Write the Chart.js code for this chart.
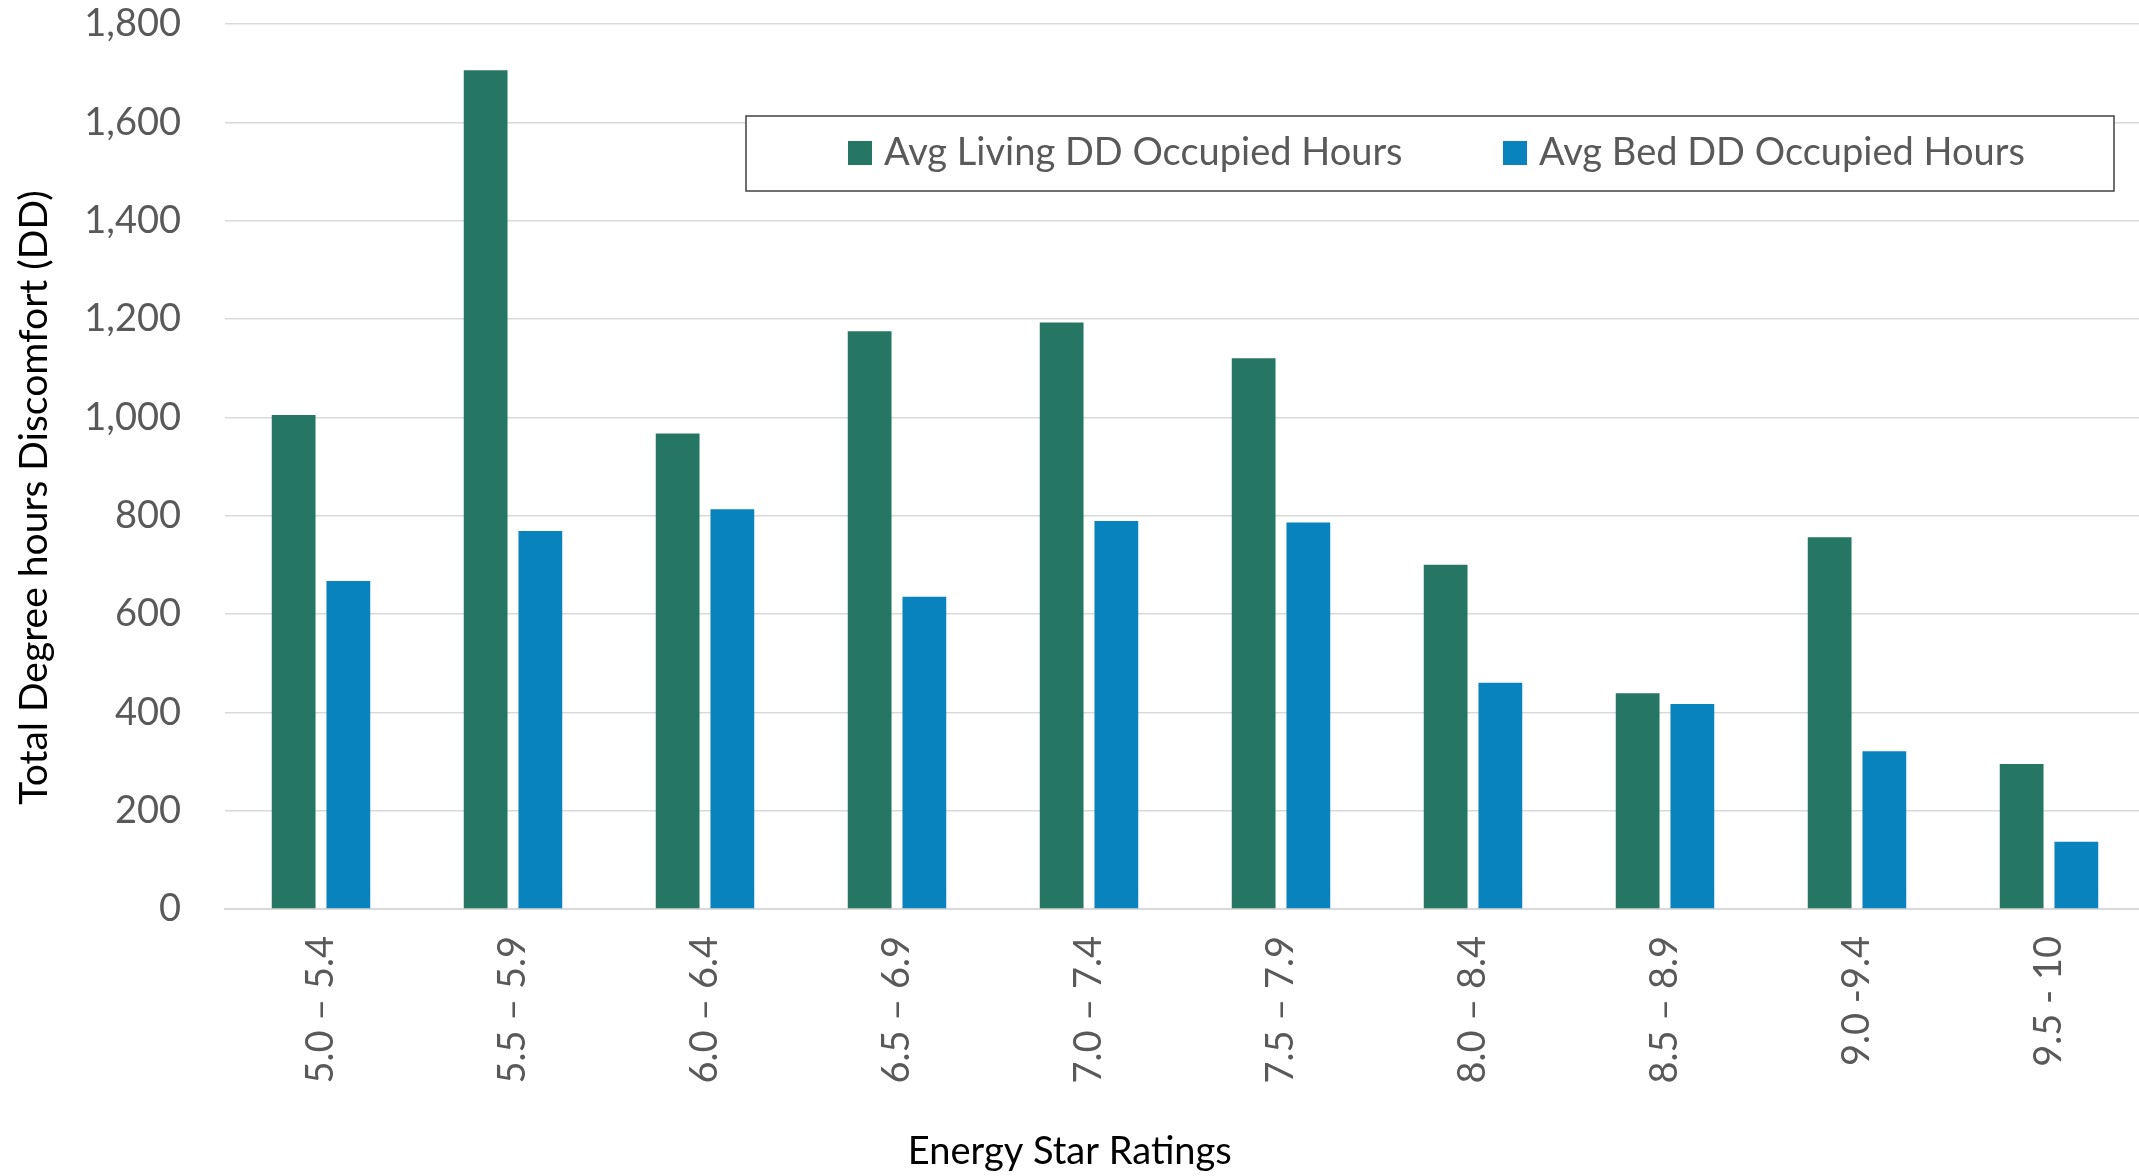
<!DOCTYPE html>
<html>
<head>
<meta charset="utf-8">
<script src="https://cdn.jsdelivr.net/npm/chart.js@4/dist/chart.umd.min.js"></script>
<style>
html,body{margin:0;padding:0;background:#fff;overflow:hidden;}
#wrap{width:2145px;height:1176px;position:relative;}
</style>
</head>
<body>
<div id="wrap"><canvas id="c" width="2145" height="1176"></canvas></div>
<script>
const categories = ['5.0 – 5.4','5.5 – 5.9','6.0 – 6.4','6.5 – 6.9','7.0 – 7.4','7.5 – 7.9','8.0 – 8.4','8.5 – 8.9','9.0 -9.4','9.5 - 10'];
const livingValues = [1005,1706,967,1175,1193,1120,700,439,756,295];
const bedValues = [667,769,813,635,789,786,460,417,321,137];
const seriesNames = ['Avg Living DD Occupied Hours','Avg Bed DD Occupied Hours'];
const yTicks = [0,200,400,600,800,1000,1200,1400,1600,1800];
const xTitle = 'Energy Star Ratings';
const yTitle = 'Total Degree hours Discomfort (DD)';

const FONT = 'Lato, "Open Sans", sans-serif';
const GREEN = '#267664';
const BLUE = '#0883BE';
const GREY = '#595959';

const overlay = {
  id: 'overlay',
  afterDraw(chart) {
    const ctx = chart.ctx;
    const a = chart.chartArea;
    ctx.save();
    ctx.fillStyle = '#000';
    ctx.font = '38px ' + FONT;
    ctx.textAlign = 'center';
    ctx.textBaseline = 'middle';
    ctx.fillText(xTitle, a.left + (a.right - a.left) * 0.44, 1152);
    ctx.font = '39px ' + FONT;
    ctx.translate(34, a.top + (a.bottom - a.top) * 0.535);
    ctx.rotate(-Math.PI / 2);
    ctx.fillText(yTitle, 0, 0);
    ctx.restore();

    ctx.save();
    const bx = 746, by = 116, bw = 1368, bh = 75;
    ctx.fillStyle = '#fff';
    ctx.fillRect(bx, by, bw, bh);
    ctx.strokeStyle = '#404040';
    ctx.lineWidth = 1.5;
    ctx.strokeRect(bx, by, bw, bh);
    ctx.font = '38px ' + FONT;
    ctx.textBaseline = 'middle';
    ctx.textAlign = 'left';
    const starts = [848, 1503];
    chart.data.datasets.forEach((ds, i) => {
      ctx.fillStyle = ds.backgroundColor;
      ctx.fillRect(starts[i], 141, 24, 24);
      ctx.fillStyle = GREY;
      ctx.fillText(ds.label, starts[i] + 36, 153);
    });
    ctx.restore();
  }
};

new Chart(document.getElementById('c'), {
  type: 'bar',
  data: {
    labels: categories,
    datasets: [
      { label: seriesNames[0], data: livingValues, backgroundColor: GREEN, borderWidth: 0 },
      { label: seriesNames[1], data: bedValues, backgroundColor: BLUE, borderWidth: 0 }
    ]
  },
  options: {
    responsive: false,
    animation: false,
    devicePixelRatio: 1,
    layout: { padding: { top: 24, right: 0, left: 0, bottom: 0 } },
    plugins: { legend: { display: false }, tooltip: { enabled: false } },
    datasets: { bar: { categoryPercentage: 0.57, barPercentage: 0.8 } },
    scales: {
      x: {
        grid: { display: false, drawTicks: false },
        border: { display: true, color: '#d9d9d9', width: 2 },
        ticks: {
          color: GREY, font: { family: FONT, size: 38 },
          maxRotation: 90, minRotation: 90, padding: 27, autoSkip: false
        },
        afterFit(s) { s.height = 267; s.paddingLeft = 0; s.paddingRight = 0; s.paddingTop = 0; s.paddingBottom = 0; }
      },
      y: {
        min: 0, max: 1800,
        afterBuildTicks(s) { s.ticks = yTicks.map(v => ({ value: v })); },
        grid: { color: '#d9d9d9', lineWidth: 1.5, drawTicks: false },
        border: { display: false },
        ticks: {
          color: GREY, font: { family: FONT, size: 38 }, padding: 44,
          callback: v => v.toLocaleString('en-US')
        },
        afterFit(s) { s.width = 225; s.paddingTop = 0; s.paddingBottom = 0; s.paddingLeft = 0; s.paddingRight = 0; }
      }
    }
  },
  plugins: [overlay]
});
</script>
</body>
</html>
